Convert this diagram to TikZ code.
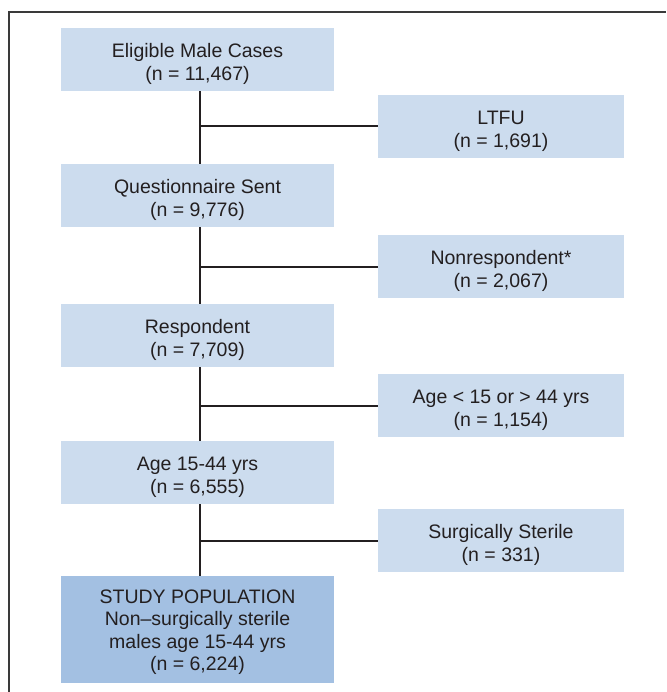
\documentclass[tikz,border=0pt]{standalone}
\usepackage{fontspec}
\setmainfont{Liberation Sans}
\usepackage{xcolor}
\usetikzlibrary{positioning,arrows.meta}
\definecolor{boxblue}{HTML}{CCDCEE}
\definecolor{popblue}{HTML}{A3C0E2}
\definecolor{inktext}{HTML}{231F20}
\definecolor{framegray}{HTML}{3A3A3A}
\newcommand{\toprule}{\rule{0pt}{23pt}}

\begin{document}
\begin{tikzpicture}[x=1pt,y=-1pt,>=Stealth,
  stagebox/.style={fill=boxblue, text=inktext, align=center, inner sep=0pt,
    minimum width=273pt, minimum height=63pt, font=\fontsize{19.5}{22.5}\selectfont},
  exclbox/.style={stagebox, minimum width=246pt},
  finalbox/.style={stagebox, fill=popblue, minimum height=107pt},
  link/.style={draw=inktext, line width=2pt}]

\useasboundingbox (0,0) rectangle (666,692);
\draw[framegray, line width=1.6pt] (9,692) -- (9,12) -- (666,12);

\def\lx{197.5}
\def\rx{501}

\node[stagebox] (elig)  at (\lx,59.5)  {\toprule Eligible Male Cases\\(n = 11,467)};
\node[stagebox] (quest) at (\lx,195.5) {\toprule Questionnaire Sent\\(n = 9,776)};
\node[stagebox] (resp)  at (\lx,335.5) {\toprule Respondent\\(n = 7,709)};
\node[stagebox] (age)   at (\lx,472.5) {\toprule Age 15-44 yrs\\(n = 6,555)};
\node[finalbox] (study) at (\lx,629.5)
  {\rule{0pt}{19pt}STUDY POPULATION\\Non–surgically sterile\\males age 15-44 yrs\\(n = 6,224)};

\node[exclbox] (ltfu)    at (\rx,126.5) {\toprule LTFU\\(n = 1,691)};
\node[exclbox] (nonresp) at (\rx,266.5) {\toprule Nonrespondent*\\(n = 2,067)};
\node[exclbox] (agex)    at (\rx,405.5) {\toprule Age < 15 or > 44 yrs\\(n = 1,154)};
\node[exclbox] (surg)    at (\rx,540.5) {\toprule Surgically Sterile\\(n = 331)};

\coordinate (trunk) at (200,0);

\foreach \a/\b in {elig/quest, quest/resp, resp/age, age/study}{
  \draw[link] (\a.south -| trunk) -- (\b.north -| trunk);
}
\foreach \e in {ltfu, nonresp, agex, surg}{
  \draw[link] (\e.west -| trunk) -- (\e.west);
}

\end{tikzpicture}
\end{document}
